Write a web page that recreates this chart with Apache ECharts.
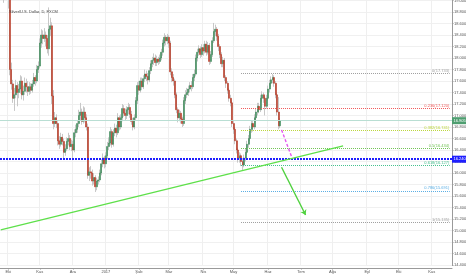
<!DOCTYPE html>
<html><head><meta charset="utf-8">
<script src="https://cdn.jsdelivr.net/npm/echarts@6/dist/echarts.min.js"></script>
<style>html,body{margin:0;padding:0;background:#fff}#c{width:466px;height:275px}</style>
</head><body><div id="c"></div>
<script>
const chartTitle = 'Silver/U.S. Dollar, D, FXCM';
const monthNames = ['Oca','Şub','Mar','Nis','May','Haz','Tem','Ağu','Eyl','Eki','Kas','Ara'];
const firstDay = '2016-09-26';
const barCount = 301;

// [open, close, low, high], daily from 2016-09-26
const candles = [
[19.55,19.40,19.30,19.62],[19.40,19.20,19.12,19.45],[19.20,19.10,18.96,19.28],[19.10,19.30,19.02,19.42],[19.30,19.22,19.08,19.38],
[19.22,19.12,18.86,19.30],[19.12,17.80,17.70,19.16],[17.80,17.55,17.45,17.92],[17.55,17.30,17.22,17.62],[17.30,17.36,17.08,17.48],
[17.36,17.52,17.30,17.62],[17.52,17.40,17.16,17.58],[17.40,17.46,17.30,17.55],[17.46,17.60,17.38,17.70],[17.60,17.36,17.28,17.68],
[17.36,17.42,17.26,17.52],[17.42,17.56,17.36,17.66],[17.56,17.50,17.40,17.64],[17.50,17.42,17.34,17.60],[17.42,17.50,17.36,17.58],
[17.50,17.44,17.38,17.56],[17.44,17.55,17.40,17.62],[17.55,17.66,17.50,17.74],[17.66,17.60,17.52,17.70],[17.60,17.80,17.56,17.88],
[17.80,17.86,17.74,17.94],[17.86,18.26,17.82,18.34],[18.26,18.40,18.18,18.50],[18.40,18.34,18.24,18.48],[18.34,18.40,18.28,18.52],
[18.40,18.34,18.20,18.46],[18.34,18.16,18.08,18.40],[18.16,18.50,18.04,18.88],[18.50,18.56,18.38,18.70],[18.56,17.34,17.20,18.62],
[17.34,16.86,16.76,17.44],[16.86,16.96,16.80,17.06],[16.96,16.86,16.78,17.02],[16.86,16.56,16.48,16.90],[16.56,16.50,16.42,16.64],
[16.50,16.62,16.46,16.70],[16.62,16.55,16.48,16.68],[16.55,16.36,16.23,16.60],[16.36,16.42,16.30,16.50],[16.42,16.55,16.38,16.62],
[16.55,16.60,16.48,16.70],[16.60,16.46,16.40,16.66],[16.46,16.50,16.38,16.58],[16.50,16.40,16.26,16.56],[16.40,16.70,16.36,16.76],
[16.70,16.76,16.62,16.84],[16.76,16.86,16.70,16.92],[16.86,17.00,16.80,17.10],[17.00,17.06,16.92,17.22],[17.06,16.90,16.84,17.12],
[16.90,17.06,16.86,17.16],[17.06,16.96,16.88,17.14],[16.96,16.80,16.74,17.02],[16.80,15.96,15.90,16.86],[15.96,16.02,15.86,16.10],
[16.02,16.00,15.90,16.12],[16.00,15.86,15.78,16.06],[15.86,15.92,15.80,16.00],[15.92,15.76,15.67,15.96],[15.76,15.86,15.70,15.92],
[15.86,15.88,15.80,15.94],[15.88,16.00,15.84,16.06],[16.00,16.16,15.96,16.24],[16.16,16.26,16.10,16.34],[16.26,16.16,16.08,16.30],
[16.16,16.30,16.10,16.36],[16.30,16.46,16.24,16.54],[16.46,16.52,16.40,16.62],[16.52,16.72,16.48,16.80],[16.72,16.50,16.44,16.76],
[16.50,16.70,16.46,16.76],[16.70,16.78,16.64,16.86],[16.78,16.70,16.62,16.84],[16.70,16.96,16.66,17.04],[16.96,16.80,16.74,17.00],
[16.80,16.96,16.76,17.02],[16.96,17.12,16.90,17.20],[17.12,17.04,16.98,17.18],[17.04,17.00,16.92,17.12],[17.00,17.10,16.94,17.16],
[17.10,17.14,17.02,17.22],[17.14,17.02,16.96,17.20],[17.02,16.90,16.84,17.08],[16.90,16.80,16.74,16.96],[16.80,16.96,16.76,17.02],
[16.96,17.26,16.92,17.32],[17.26,17.52,17.20,17.58],[17.52,17.44,17.36,17.60],[17.44,17.60,17.40,17.66],[17.60,17.50,17.44,17.66],
[17.50,17.64,17.46,17.70],[17.64,17.72,17.58,17.80],[17.72,17.68,17.60,17.78],[17.68,17.62,17.54,17.74],[17.62,17.78,17.58,17.84],
[17.78,17.90,17.72,17.96],[17.90,17.96,17.84,18.02],[17.96,18.00,17.88,18.08],[18.00,17.92,17.86,18.06],[17.92,17.98,17.86,18.04],
[17.98,17.94,17.88,18.02],[17.94,18.00,17.90,18.06],[18.00,18.10,17.96,18.16],[18.10,18.26,18.04,18.32],[18.26,18.36,18.20,18.43],
[18.36,18.30,18.22,18.40],[18.30,18.36,18.24,18.42],[18.36,18.26,18.18,18.40],[18.26,17.76,17.70,18.30],[17.76,17.66,17.58,17.82],
[17.66,17.60,17.52,17.72],[17.60,17.36,17.30,17.64],[17.36,17.10,17.04,17.40],[17.10,16.96,16.88,17.14],[16.96,17.04,16.90,17.10],
[17.04,16.94,16.86,17.08],[16.94,16.86,16.80,16.98],[16.86,17.26,16.82,17.32],[17.26,17.36,17.20,17.44],[17.36,17.40,17.30,17.48],
[17.40,17.46,17.34,17.52],[17.46,17.52,17.40,17.58],[17.52,17.50,17.42,17.60],[17.50,17.66,17.46,17.72],[17.66,17.72,17.60,17.80],
[17.72,18.00,17.68,18.06],[18.00,18.10,17.94,18.16],[18.10,18.16,18.04,18.22],[18.16,18.06,18.00,18.20],[18.06,18.18,18.02,18.24],
[18.18,18.12,18.04,18.24],[18.12,18.24,18.08,18.30],[18.24,18.10,18.04,18.30],[18.10,18.22,18.06,18.28],[18.22,17.94,17.88,18.26],
[17.94,18.06,17.90,18.12],[18.06,18.30,18.02,18.36],[18.30,18.46,18.26,18.61],[18.46,18.50,18.38,18.58],[18.50,18.38,18.30,18.54],
[18.38,18.20,18.12,18.42],[18.20,18.06,18.00,18.24],[18.06,17.90,17.84,18.10],[17.90,17.96,17.84,18.02],[17.96,17.66,17.60,18.00],
[17.66,17.56,17.48,17.70],[17.56,17.44,17.38,17.60],[17.44,17.30,17.24,17.48],[17.30,17.22,17.16,17.36],[17.22,16.86,16.80,17.26],
[16.86,16.76,16.68,16.92],[16.76,16.56,16.50,16.80],[16.56,16.40,16.34,16.60],[16.40,16.26,16.18,16.44],[16.26,16.30,16.18,16.36],
[16.30,16.20,16.12,16.34],[16.20,16.14,16.05,16.26],[16.14,16.26,16.10,16.32],[16.26,16.36,16.20,16.42],[16.36,16.50,16.32,16.56],
[16.50,16.60,16.44,16.66],[16.60,16.76,16.56,16.82],[16.76,16.86,16.70,16.92],[16.86,16.80,16.72,16.92],[16.80,16.96,16.76,17.02],
[16.96,17.06,16.90,17.12],[17.06,17.16,17.00,17.22],[17.16,17.10,17.04,17.22],[17.10,17.30,17.06,17.36],[17.30,17.36,17.24,17.42],
[17.36,17.30,17.22,17.40],[17.30,17.16,17.00,17.34],[17.16,17.30,17.12,17.36],[17.30,17.46,17.26,17.52],[17.46,17.56,17.40,17.62],
[17.56,17.62,17.50,17.68],[17.62,17.66,17.56,17.72],[17.66,17.56,17.50,17.70],[17.56,17.36,17.30,17.60],[17.36,17.06,17.00,17.40],
[17.06,16.82,16.76,17.32],[16.82,16.905,16.78,16.96]
];

const fibRatios = ['0','0.236','0.382','0.5','0.618','0.786','1'];
const fibPrices = [17.733,17.120,16.741,16.434,16.127,15.691,15.135];
const fibColors = ['#a0a0a0','#f25a5a','#bcd63a','#72c455','#45c08e','#5aaee4','#a0a0a0'];
const fibFrom = 160, fibTo = 299;          // bar indices of the fib drawing
const lastPrice = 16.905;
const supportPrice = 16.240;
const trendLine = [[0, 15.01], [228, 16.47]];   // [bar index, price]
const projection = [[187, 16.75], [194, 16.26]];
const arrowPath = [[187, 16.10], [203, 15.27]];

// trading-day calendar
const dates = [];
(function(){
  let d = new Date(firstDay + 'T00:00:00Z');
  while (dates.length < barCount) {
    const wd = d.getUTCDay();
    if (wd !== 0 && wd !== 6) dates.push(d.toISOString().slice(0,10));
    d = new Date(d.getTime() + 86400000);
  }
})();
const isMonthStart = (i) => i > 0 && dates[i].slice(5,7) !== dates[i-1].slice(5,7);
const monthLabel = (v) => { const m = +v.slice(5,7); return m === 1 ? v.slice(0,4) : monthNames[m-1]; };

const bodies = candles.map(c => [c[0], c[1], Math.min(c[0],c[1]), Math.max(c[0],c[1])]);
const font = 'Liberation Sans';
const pt = (p) => ({coord: [dates[p[0]], p[1]]});

const marks = [];
fibPrices.forEach((p, k) => {
  marks.push([
    {coord: [dates[fibFrom], p], lineStyle: {color: fibColors[k], type: 'dotted', width: 1},
     label: {show: true, position: 'insideEndTop', distance: 0.5, formatter: fibRatios[k] + '(' + p.toFixed(3) + ')',
             color: fibColors[k], fontSize: 4, fontFamily: font}},
    {coord: [dates[fibTo], p]}
  ]);
});
marks.push({yAxis: lastPrice, lineStyle: {color: '#b9ded3', type: 'solid', width: 1},
  label: {show: true, position: 'end', distance: 0, formatter: lastPrice.toFixed(3), color: '#fff',
          backgroundColor: '#4e9e70', padding: [1.5, 1.5], fontSize: 4, fontFamily: font}});
marks.push({yAxis: supportPrice, lineStyle: {color: '#1f1fff', type: [2, 1], width: 2},
  label: {show: true, position: 'end', distance: 0, formatter: supportPrice.toFixed(3), color: '#fff',
          backgroundColor: '#1f1fff', padding: [1.5, 1.5], fontSize: 4, fontFamily: font}});
marks.push([Object.assign(pt(trendLine[0]), {lineStyle: {color: '#5ee04a', width: 1.3, type: 'solid'}, label: {show: false}}), pt(trendLine[1])]);
marks.push([Object.assign(pt(projection[0]), {lineStyle: {color: '#e455f0', width: 1.4, type: [3, 2]}, label: {show: false}}), pt(projection[1])]);
marks.push([Object.assign(pt(arrowPath[0]), {lineStyle: {color: '#4fd13e', width: 1.4, type: 'solid', curveness: -0.3}, label: {show: false}}),
            Object.assign(pt(arrowPath[1]), {symbol: 'arrow', symbolSize: 5})]);

const chart = echarts.init(document.getElementById('c'), null, {renderer: 'canvas'});
chart.setOption({
  animation: false,
  backgroundColor: '#fff',
  title: {text: chartTitle, left: 4, top: 5, textStyle: {fontSize: 4, fontWeight: 'normal', color: '#444', fontFamily: font}},
  grid: {left: 0, right: 14, top: 0.5, bottom: 10, outerBoundsMode: 'none', containLabel: false},
  xAxis: {
    type: 'category', data: dates, boundaryGap: true, offset: 3,
    axisLine: {lineStyle: {color: '#9a9a9a', width: 1}},
    axisTick: {show: true, alignWithLabel: true, interval: isMonthStart, length: 1.5, lineStyle: {color: '#9a9a9a'}},
    axisLabel: {interval: isMonthStart, hideOverlap: false, formatter: monthLabel, fontSize: 4, color: '#555', margin: 2, fontFamily: font},
    splitLine: {show: true, interval: isMonthStart, lineStyle: {color: '#efefef', width: 1}}
  },
  yAxis: {
    type: 'value', position: 'right', min: 14.4, max: 19.0, interval: 0.2, scale: true,
    axisLine: {show: true, lineStyle: {color: '#9a9a9a'}},
    axisTick: {show: true, length: 1.5, lineStyle: {color: '#9a9a9a'}},
    axisLabel: {fontSize: 4, color: '#555', margin: 2, fontFamily: font, formatter: v => v.toFixed(3)},
    splitLine: {show: true, lineStyle: {color: '#f0f0f0', width: 1}}
  },
  series: [
    {type: 'candlestick', name: 'wick', data: candles, barWidth: 1, clip: true,
     itemStyle: {color: '#c8c8c8', color0: '#c8c8c8', borderColor: '#c8c8c8', borderColor0: '#c8c8c8', borderWidth: 1},
     markLine: {symbol: ['none', 'none'], silent: true, animation: false, data: marks}},
    {type: 'candlestick', name: 'body', data: bodies, barWidth: 1.5, clip: true,
     itemStyle: {color: '#4f9c6c', color0: '#cc4530', borderColor: '#3d8758', borderColor0: '#b23a27', borderWidth: 0.6}}
  ]
});
</script></body></html>
